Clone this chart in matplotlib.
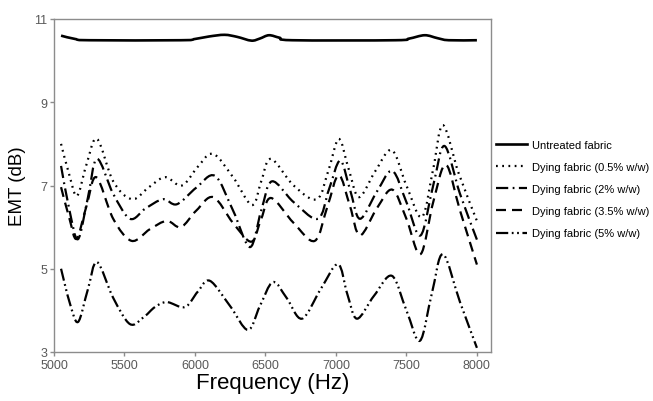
import matplotlib
matplotlib.use("Agg")
import matplotlib.pyplot as plt
from matplotlib.path import Path
from matplotlib.patches import PathPatch

plt.rcParams['font.family'] = ['Liberation Sans', 'DejaVu Sans']

# valores (Hz, dB)
freq_untreated = [5050, 5150, 5250, 5900, 6000, 6100, 6210, 6300, 6400, 6460, 6525, 6600, 6690,
                  7420, 7520, 7630, 7720, 7800, 8000]
emt_untreated = [10.60, 10.52, 10.49, 10.49, 10.52, 10.58, 10.62, 10.57, 10.48, 10.53, 10.61, 10.55, 10.49,
                 10.49, 10.53, 10.61, 10.54, 10.49, 10.49]

freq_05 = [5050, 5105, 5163, 5230, 5305, 5420, 5553, 5670, 5787, 5908, 6020, 6128, 6270, 6404, 6470,
           6539, 6700, 6865, 6950, 7021, 7090, 7163, 7280, 7397, 7500, 7610, 7690, 7759, 7870, 8000]
emt_05 = [8.00, 7.30, 6.75, 7.50, 8.12, 7.10, 6.67, 6.95, 7.20, 7.00, 7.45, 7.76, 7.20, 6.53, 7.10,
          7.64, 7.00, 6.67, 7.40, 8.12, 7.40, 6.72, 7.35, 7.85, 7.00, 6.24, 7.40, 8.45, 7.30, 6.15]

freq_2 = [5050, 5110, 5170, 5240, 5305, 5420, 5539, 5650, 5773, 5872, 6010, 6142, 6270, 6390, 6470,
          6546, 6700, 6872, 6950, 7030, 7100, 7170, 7290, 7400, 7500, 7600, 7690, 7770, 7880, 8000]
emt_2 = [7.47, 6.40, 5.71, 6.70, 7.64, 6.80, 6.20, 6.45, 6.67, 6.55, 6.95, 7.23, 6.40, 5.52, 6.40,
         7.10, 6.60, 6.20, 6.90, 7.60, 6.90, 6.20, 6.85, 7.35, 6.60, 5.80, 7.00, 7.95, 6.80, 5.70]

freq_35 = [5050, 5110, 5160, 5230, 5300, 5420, 5550, 5680, 5800, 5900, 6010, 6130, 6270, 6400, 6470,
           6540, 6700, 6850, 6940, 7020, 7100, 7170, 7290, 7400, 7500, 7600, 7690, 7780, 7880, 8000]
emt_35 = [6.96, 6.20, 5.72, 6.50, 7.20, 6.20, 5.67, 5.95, 6.15, 6.00, 6.40, 6.72, 6.10, 5.65, 6.20,
          6.70, 6.10, 5.67, 6.50, 7.25, 6.50, 5.80, 6.45, 6.90, 6.20, 5.35, 6.60, 7.50, 6.40, 5.10]

freq_5 = [5050, 5110, 5170, 5240, 5305, 5420, 5539, 5640, 5716, 5800, 5929, 6020, 6106, 6250, 6376,
          6460, 6553, 6650, 6759, 6890, 7014, 7080, 7149, 7270, 7397, 7500, 7596, 7680, 7759, 7880, 8000]
emt_5 = [5.00, 4.20, 3.72, 4.50, 5.16, 4.30, 3.67, 3.85, 4.08, 4.20, 4.08, 4.45, 4.71, 4.10, 3.53,
         4.10, 4.68, 4.30, 3.80, 4.50, 5.11, 4.40, 3.80, 4.35, 4.83, 4.00, 3.27, 4.40, 5.35, 4.20, 3.10]

labels = ['Untreated fabric', 'Dying fabric (0.5% w/w)', 'Dying fabric (2% w/w)',
          'Dying fabric (3.5% w/w)', 'Dying fabric (5% w/w)']

estilos = ['-', (0, (0.8, 2.0)), (0, (5.5, 2.0, 0.8, 2.0)), (0, (4.5, 2.7)),
           (0, (5.5, 1.6, 0.8, 1.6, 0.8, 1.6))]
larguras = [1.9, 1.6, 1.6, 1.6, 1.6]


def linha_suave(ax, xs, ys, **kw):
    # linha suavizada como no Excel: curvas de Bezier passando pelos pontos lidos
    n = len(xs)
    verts = [(xs[0], ys[0])]
    codes = [Path.MOVETO]
    for i in range(n - 1):
        x0, y0 = (xs[i - 1], ys[i - 1]) if i > 0 else (xs[i], ys[i])
        x1, y1 = xs[i], ys[i]
        x2, y2 = xs[i + 1], ys[i + 1]
        x3, y3 = (xs[i + 2], ys[i + 2]) if i + 2 < n else (x2, y2)
        c1 = (x1 + (x2 - x0) / 6, y1 + (y2 - y0) / 6)
        c2 = (x2 - (x3 - x1) / 6, y2 - (y3 - y1) / 6)
        verts += [c1, c2, (x2, y2)]
        codes += [Path.CURVE4] * 3
    ax.add_patch(PathPatch(Path(verts, codes), fill=False, capstyle='butt', joinstyle='round', **kw))


fig = plt.figure(figsize=(6.53, 4.02), dpi=100)
ax = fig.add_axes([54 / 653, 49 / 402, 437 / 653, 333 / 402])

series = [(freq_untreated, emt_untreated), (freq_05, emt_05), (freq_2, emt_2),
          (freq_35, emt_35), (freq_5, emt_5)]
for (xs, ys), lab, ls, lw in zip(series, labels, estilos, larguras):
    linha_suave(ax, xs, ys, edgecolor='black', lw=lw, linestyle=ls)
    ax.plot([], [], color='black', lw=lw, linestyle=ls, label=lab)

ax.set_xlim(5000, 8100)
ax.set_ylim(3, 11)
ax.set_xticks([5000, 5500, 6000, 6500, 7000, 7500, 8000])
ax.set_yticks([3, 5, 7, 9, 11])

for s in ax.spines.values():
    s.set_color('#8c8c8c')
    s.set_linewidth(1.0)
ax.tick_params(colors='#8c8c8c', labelcolor='#595959', labelsize=9, length=3, width=1.0, pad=2)

ax.set_xlabel('Frequency (Hz)', fontsize=16, labelpad=1)
ax.set_ylabel('EMT (dB)', fontsize=13.5, labelpad=6)

fig.legend(loc='center left', bbox_to_anchor=(496 / 653, 1 - 190 / 402), frameon=False,
           fontsize=8, handlelength=2.8, handletextpad=0.4, labelspacing=1.1,
           borderpad=0, borderaxespad=0)

fig.savefig('out.png', dpi=100)
